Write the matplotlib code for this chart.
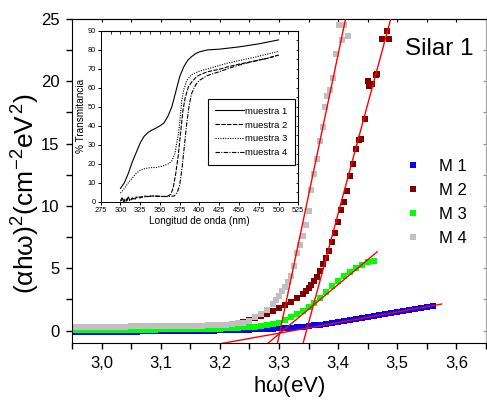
import matplotlib
matplotlib.use("Agg")
import matplotlib.pyplot as plt
import numpy as np
from matplotlib.ticker import MultipleLocator

plt.rcParams['font.family'] = ['Liberation Sans', 'DejaVu Sans']
plt.rcParams['mathtext.fontset'] = 'custom'
plt.rcParams['mathtext.rm'] = 'Liberation Sans'
plt.rcParams['mathtext.it'] = 'Liberation Sans'
plt.rcParams['mathtext.bf'] = 'Liberation Sans:bold'

# ---- main plot data: (alpha h w)^2 vs photon energy ----
# flat part sampled every 0.01 eV, steeper part read point by point
m1_x = np.round(np.arange(2.95, 3.565, 0.01), 3)
m1_y = [-0.12, -0.12, -0.11, -0.11, -0.10, -0.10, -0.10, -0.09, -0.09, -0.09, -0.08,
        -0.08, -0.07, -0.07, -0.06, -0.06, -0.05, -0.05, -0.04, -0.04, -0.03,
        -0.02, -0.02, -0.01, 0.00, 0.01, 0.02, 0.03, 0.05, 0.06, 0.08,
        0.10, 0.12, 0.14, 0.16, 0.19, 0.21, 0.24, 0.27, 0.31, 0.36,
        0.42, 0.48, 0.55, 0.62, 0.70, 0.78, 0.86, 0.94, 1.02, 1.10,
        1.18, 1.26, 1.34, 1.42, 1.50, 1.58, 1.66, 1.74, 1.82, 1.88, 1.93]

m2_x = list(np.round(np.arange(2.95, 3.225, 0.01), 3)) + [
    3.23, 3.24, 3.25, 3.26, 3.27, 3.28, 3.29, 3.30, 3.31, 3.32, 3.33, 3.34, 3.345,
    3.35, 3.355, 3.36, 3.365, 3.37, 3.375, 3.38, 3.385, 3.39, 3.395, 3.40, 3.405,
    3.41, 3.415, 3.42, 3.425, 3.43, 3.436, 3.438, 3.446, 3.450, 3.452, 3.458,
    3.464, 3.466, 3.474, 3.483, 3.486]
m2_y = [0.12, 0.12, 0.13, 0.13, 0.14, 0.14, 0.15, 0.15, 0.16, 0.16, 0.17,
        0.17, 0.18, 0.19, 0.20, 0.21, 0.22, 0.23, 0.24, 0.26, 0.28,
        0.30, 0.32, 0.35, 0.38, 0.42, 0.47, 0.53,
        0.62, 0.72, 0.85, 1.0, 1.15, 1.35, 1.55, 1.8, 2.05, 2.3, 2.6, 2.95, 3.15,
        3.4, 3.65, 3.95, 4.3, 4.75, 5.3, 5.8, 6.4, 7.1, 7.8, 8.7, 9.7,
        10.3, 11.2, 12.4, 13.4, 14.6, 15.3, 15.4, 17.0, 20.0, 19.6, 19.8,
        20.5, 20.6, 23.4, 24.0, 23.4]

m3_x = np.round(np.arange(2.95, 3.465, 0.01), 3)
m3_y = [0.05, 0.05, 0.05, 0.05, 0.06, 0.06, 0.06, 0.06, 0.07, 0.07, 0.07,
        0.07, 0.08, 0.08, 0.08, 0.09, 0.09, 0.10, 0.10, 0.11, 0.11,
        0.12, 0.13, 0.13, 0.14, 0.16, 0.18, 0.20, 0.23, 0.26, 0.28,
        0.30, 0.35, 0.42, 0.52, 0.64, 0.82, 1.05, 1.30, 1.58, 1.87,
        2.20, 2.65, 3.10, 3.55, 3.95, 4.35, 4.70, 5.00, 5.28, 5.50, 5.55]

m4_x = list(np.round(np.arange(2.95, 3.255, 0.01), 3)) + [
    3.26, 3.27, 3.28, 3.29, 3.295, 3.30, 3.305, 3.31, 3.315, 3.32, 3.325, 3.33,
    3.335, 3.34, 3.345, 3.35, 3.355, 3.36, 3.365, 3.37, 3.374, 3.378, 3.382,
    3.386, 3.392, 3.397, 3.402, 3.407, 3.410, 3.416]
m4_y = [0.30, 0.30, 0.30, 0.31, 0.31, 0.31, 0.31, 0.32, 0.32, 0.32, 0.33,
        0.33, 0.33, 0.34, 0.34, 0.35, 0.35, 0.36, 0.36, 0.37, 0.38,
        0.39, 0.40, 0.41, 0.43, 0.45, 0.48, 0.52, 0.57, 0.64, 0.75,
        1.05, 1.35, 1.65, 2.1, 2.45, 2.8, 3.15, 3.5, 3.9, 4.4, 5.2, 6.2,
        6.9, 7.6, 8.5, 9.6, 11.3, 12.6, 13.8, 15.2, 16.3, 17.9, 18.8,
        19.3, 20.3, 22.2, 24.5, 23.3, 24.5, 23.6]

series_labels = ['M 1', 'M 2', 'M 3', 'M 4']
series_colors = ['#0000ff', '#800000', '#00ff00', '#c0c0c0']

# linear fits: y = slope * (x - x_intercept), drawn between x_start and x_end
fit_slope = [8.5, 175.5, 39.7, 226.0]
fit_x_int = [3.325, 3.3466, 3.307, 3.302]
fit_start = [3.205, 3.340, 3.280, 3.297]
fit_end = [3.575, 3.495, 3.466, 3.415]

xtick_vals = [3.0, 3.1, 3.2, 3.3, 3.4, 3.5, 3.6]
xtick_labels = ['3,0', '3,1', '3,2', '3,3', '3,4', '3,5', '3,6']

# ---- inset data: transmittance spectra ----
t1_x = [300, 305, 310, 315, 320, 325, 330, 335, 340, 345, 350, 355, 360, 365, 370,
        375, 380, 385, 390, 395, 400, 410, 425, 450, 475, 500]
t1_y = [7, 10, 15, 21, 26, 31, 34.5, 36.5, 37.8, 38.8, 40, 41.5, 45, 50, 58,
        66, 71, 74.5, 76.5, 78, 79, 80, 80.4, 81.6, 83.2, 85.3]
t2_x = [300, 302, 304, 306, 308, 310, 312, 315, 318, 320, 325, 330, 335, 340, 345,
        350, 355, 360, 364, 367, 370, 373, 376, 379, 382, 386, 390, 396, 400, 410,
        425, 435, 450, 468, 485, 500]
t2_y = [0.5, 2, 0, 1.5, 0.3, 2.5, 0.5, 2, 1, 2.5, 2, 3, 2.7, 3, 3,
        2.8, 2.7, 3, 4, 8, 15, 24, 36, 48, 55, 60.5, 63, 65.8, 66.8, 68.5,
        69.8, 71, 72.5, 74, 75.5, 77.3]
t3_x = [300, 305, 310, 315, 320, 325, 330, 335, 340, 345, 350, 355, 360, 365, 369,
        372, 373.5, 375, 377.5, 380, 384, 390, 400, 405, 435, 468, 500]
t3_y = [4.5, 7, 10, 12.5, 15, 16.5, 17.3, 17.8, 18, 18, 18.5, 19, 19.8, 21.5, 25.5,
        33, 36, 42, 53, 59, 64, 67, 68.8, 69.4, 73, 76, 79.2]
t4_x = [300, 303, 306, 309, 312, 315, 320, 325, 330, 340, 350, 360, 368, 372, 375,
        378, 381, 384, 387, 390, 395, 400, 410, 425, 435, 450, 468, 485, 500]
t4_y = [0.3, 1.5, 0, 2, 0.5, 1.5, 2, 2.5, 2.5, 3, 2.8, 2.7, 3, 5, 9,
        18, 30, 42, 51, 57, 61.5, 64, 66.5, 68.5, 70, 72, 74, 75.5, 77.2]
inset_labels = ['muestra 1', 'muestra 2', 'muestra 3', 'muestra 4']
inset_styles = ['-', (0, (4, 1.2)), (0, (1, 1.2)), (0, (4, 1.2, 1, 1.2))]

fig = plt.figure(figsize=(4.87, 4.0), dpi=100)
ax = fig.add_axes([0.1478, 0.1425, 0.850, 0.81])

xs = [m1_x, m2_x, m3_x, m4_x]
ys = [m1_y, m2_y, m3_y, m4_y]
for x, y, c, lab in zip(xs, ys, series_colors, series_labels):
    ax.plot(x, y, 's', color=c, markersize=4.1, markeredgewidth=0, label=lab)

for s, x0, a, b in zip(fit_slope, fit_x_int, fit_start, fit_end):
    fx = np.array([a, b])
    ax.plot(fx, s * (fx - x0), color='red', lw=1.0, zorder=5)

ax.set_xlim(2.95, 3.65)
ax.set_ylim(-1, 25)
ax.set_xticks(xtick_vals)
ax.set_xticklabels(xtick_labels)
ax.set_yticks([0, 5, 10, 15, 20, 25])
ax.xaxis.set_minor_locator(MultipleLocator(0.05))
ax.yaxis.set_minor_locator(MultipleLocator(2.5))
ax.tick_params(which='major', direction='out', length=4, width=1, labelsize=12, pad=5)
ax.tick_params(which='minor', direction='out', length=4, width=1)
ax.spines['right'].set_color('#aaaaaa')

# small inward ticks along top and right
top = ax.secondary_xaxis('top')
top.xaxis.set_major_locator(MultipleLocator(0.05))
top.tick_params(direction='in', length=2, labeltop=False, width=0.8)
right = ax.secondary_yaxis('right')
right.yaxis.set_major_locator(MultipleLocator(2.5))
right.tick_params(direction='in', length=2, labelright=False, width=0.8, color='#888888')
right.spines['right'].set_color('#aaaaaa')

ax.set_xlabel(r'h$\omega$(eV)', fontsize=16)
ax.xaxis.set_label_coords(0.525, -0.095)
ax.set_ylabel(r'$(\alpha h\omega)^2(cm^{-2}eV^2)$', fontsize=19, va='center')
ax.yaxis.set_label_coords(-0.112, 0.46)

ax.text(0.804, 0.889, 'Silar 1', transform=ax.transAxes, fontsize=17.5, va='baseline')
ax.legend(loc='upper left', bbox_to_anchor=(0.795, 0.59), frameon=False, fontsize=12,
          handlelength=0.6, handletextpad=1.3, labelspacing=0.55, markerscale=1.2,
          borderaxespad=0)

# ---- inset ----
axi = fig.add_axes([0.2068, 0.4958, 0.4057, 0.4268])
for x, y, ls, lab in zip([t1_x, t2_x, t3_x, t4_x], [t1_y, t2_y, t3_y, t4_y],
                         inset_styles, inset_labels):
    axi.plot(x, y, color='black', lw=0.8, linestyle=ls, label=lab)
axi.set_xlim(275, 525)
axi.set_ylim(0, 90)
axi.set_xticks(np.arange(275, 526, 25))
axi.set_yticks(np.arange(0, 91, 10))
axi.tick_params(direction='out', length=2, width=0.7, labelsize=5.3, pad=1.5)
for sp in axi.spines.values():
    sp.set_linewidth(0.7)
itop = axi.secondary_xaxis('top')
itop.xaxis.set_major_locator(MultipleLocator(12.5))
itop.tick_params(direction='in', length=1.8, labeltop=False, width=0.6)
iright = axi.secondary_yaxis('right')
iright.yaxis.set_major_locator(MultipleLocator(5))
iright.tick_params(direction='in', length=1.8, labelright=False, width=0.6)
axi.set_xlabel('Longitud de onda (nm)', fontsize=7.2, labelpad=2)
axi.set_ylabel('% Transmitancia', fontsize=7.2, labelpad=1)
leg = axi.legend(loc='upper left', bbox_to_anchor=(0.5415, 0.6), fontsize=6.8,
                 handlelength=3.0, handletextpad=0.2, labelspacing=0.5, borderpad=0.8,
                 fancybox=False, edgecolor='black', framealpha=1, borderaxespad=0)
leg.get_frame().set_linewidth(0.8)

fig.savefig('out.png', dpi=100)
